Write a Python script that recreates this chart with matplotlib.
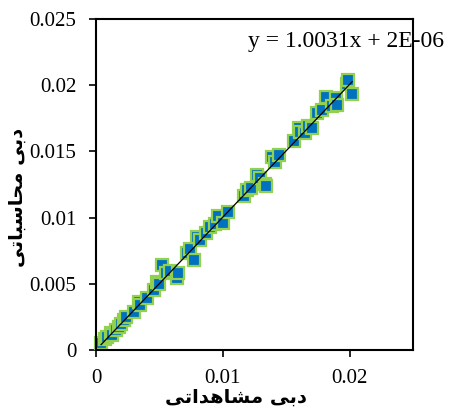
import matplotlib
matplotlib.use("Agg")
import matplotlib.pyplot as plt
import numpy as np

observed = [0.0004, 0.0007, 0.0009, 0.0012, 0.0013, 0.0016, 0.0018, 0.0020, 0.0022, 0.0024,
            0.0030, 0.0034, 0.0035, 0.0040, 0.0046, 0.0048, 0.0050, 0.0052, 0.0055, 0.0058,
            0.0064, 0.0065, 0.0072, 0.0074, 0.0077, 0.0080, 0.0082, 0.0087, 0.0090, 0.0094,
            0.0096, 0.0100, 0.0104, 0.0117, 0.0119, 0.0122, 0.0127, 0.0129, 0.0133, 0.0134,
            0.0139, 0.0141, 0.0144, 0.0156, 0.0160, 0.0161, 0.0165, 0.0167, 0.0170, 0.0174,
            0.0178, 0.0181, 0.0186, 0.0189, 0.0190, 0.0198, 0.0199, 0.0202]
simulated = [0.0005, 0.0008, 0.0010, 0.0013, 0.0011, 0.0015, 0.0017, 0.0020, 0.0023, 0.0025,
             0.0029, 0.0036, 0.0034, 0.0039, 0.0045, 0.0051, 0.0050, 0.0064, 0.0058, 0.0060,
             0.0054, 0.0058, 0.0073, 0.0076, 0.0068, 0.0085, 0.0083, 0.0088, 0.0093, 0.0095,
             0.0101, 0.0096, 0.0104, 0.0116, 0.0121, 0.0122, 0.0132, 0.0130, 0.0125, 0.0124,
             0.0146, 0.0142, 0.0147, 0.0158, 0.0168, 0.0165, 0.0164, 0.0169, 0.0168, 0.0179,
             0.0181, 0.0191, 0.0184, 0.0190, 0.0185, 0.0201, 0.0204, 0.0193]

slope = 1.0031
intercept = 2e-06
equation = "y = 1.0031x + 2E-06"

x_ticks = [0, 0.01, 0.02]
x_tick_labels = ["0", "0.01", "0.02"]
y_ticks = [0, 0.005, 0.01, 0.015, 0.02, 0.025]
y_tick_labels = ["0", "0.005", "0.01", "0.015", "0.02", "0.025"]

# Persian labels: "دبی مشاهداتی" and "دبی محاسباتی", pre-shaped (presentation forms), visual order
def visual(chars):
    return "".join(reversed(chars))

x_label = visual(["\uFEA9", "\uFE91", "\uFEF0", " ", "\uFEE3", "\uFEB8", "\uFE8E",
                  "\uFEEB", "\uFEAA", "\uFE8D", "\uFE97", "\uFEF0"])
y_label = visual(["\uFEA9", "\uFE91", "\uFEF0", " ", "\uFEE3", "\uFEA4", "\uFE8E",
                  "\uFEB3", "\uFE92", "\uFE8E", "\uFE97", "\uFEF0"])

plt.rcParams['font.family'] = ['Liberation Serif', 'DejaVu Serif']

fig = plt.figure(figsize=(4.49, 4.12), dpi=100)
ax = fig.add_axes([0.2138, 0.1505, 0.7062, 0.8035])

ax.plot(observed, simulated, linestyle='none', marker='s', markersize=8.5,
        markerfacecolor='#0070C0', markeredgecolor='#92D050', markeredgewidth=1.6,
        zorder=3, clip_on=False)

xs = np.array([min(observed), max(observed)])
ax.plot(xs, slope * xs + intercept, color='black', linewidth=0.9, zorder=4)

ax.set_xlim(0, 0.025)
ax.set_ylim(0, 0.025)
ax.set_xticks(x_ticks)
ax.set_xticklabels(x_tick_labels)
ax.set_yticks(y_ticks)
ax.set_yticklabels(y_tick_labels)
ax.tick_params(direction='out', length=5, width=1.2, labelsize=15, colors='black')
ax.tick_params(axis='y', pad=9)
ax.tick_params(axis='x', pad=9)

for s in ax.spines.values():
    s.set_linewidth(1.5)
    s.set_zorder(5)

ax.text(0.478, 0.915, equation, transform=ax.transAxes, fontsize=17,
        ha='left', va='baseline', zorder=1, clip_on=False)

fig.text(0.525, 0.035, x_label, ha='center', va='center', fontsize=14,
         fontweight='bold', family=['DejaVu Sans'])
fig.text(0.038, 0.52, y_label, ha='center', va='center', fontsize=14,
         fontweight='bold', rotation=90, family=['DejaVu Sans'])

fig.savefig("out.png", dpi=100)
